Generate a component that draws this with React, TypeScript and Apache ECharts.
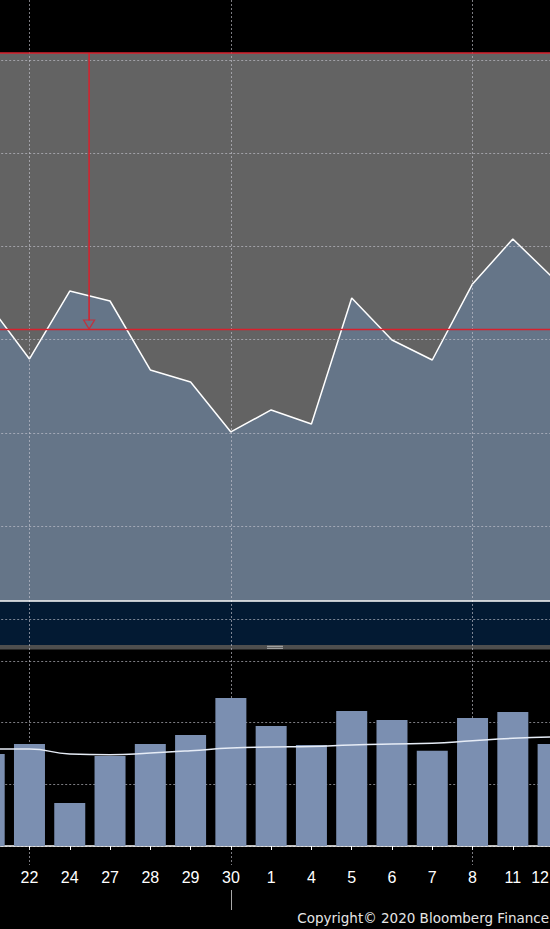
import React, { useEffect, useRef } from "react";
import * as echarts from "echarts";

// ---- data ----
const categories = ["21", "22", "24", "27", "28", "29", "30", "1", "4", "5", "6", "7", "8", "11", "12"];
const priceValues = [133.71, 127.92, 135.21, 134.14, 126.74, 125.45, 120.09, 122.45, 120.94, 134.46, 129.96, 127.81, 135.97, 140.79, 136.61];
const volumeValues = [14.92, 16.54, 6.97, 14.59, 16.54, 18.0, 24.0, 19.46, 16.38, 21.89, 20.43, 15.45, 20.76, 21.73, 16.54];
const volumeAvg = [15.73, 15.73, 14.92, 14.8, 15.08, 15.45, 15.89, 16.05, 16.13, 16.38, 16.54, 16.65, 17.07, 17.46, 17.67];
const priceGridTicks = [100, 110, 120, 130, 140, 150, 160];
const priceMin = 97.23;
const priceMax = 160.75;
const priceBase = 102;
const priceMarker = 131.14;
const arrowX = 2.48;
const volumeMax = 30;
const volumeStep = 10;
const verticalIdx = [1, 6, 12];
const highlightIdx = 6;
const copyrightText = "Copyright\u00A9 2020 Bloomberg Finance";

const RED = "#d8202c";
const GRID_DASH = "rgba(200,200,210,0.62)";

export default function App() {
  const ref = useRef<HTMLDivElement>(null);
  useEffect(() => {
    if (!ref.current) return;
    const chart = echarts.init(ref.current, null, { renderer: "svg" });
    const L = -10.8;
    const W = 563.9;
    const hidden = {
      axisLine: { show: false },
      axisTick: { show: false },
      axisLabel: { show: false },
    };
    const lastIdx = categories.length - 1;
    const labelFont = { color: "#ffffff", fontSize: 16, fontFamily: "Liberation Sans" };
    const gridBase = { left: L, width: W, containLabel: false, outerBoundsMode: "none" };
    chart.setOption({
      animation: false,
      backgroundColor: "#000",
      grid: [
        { ...gridBase, top: 53, height: 592, show: true, backgroundColor: "#636363", borderWidth: 0 },
        { ...gridBase, top: 661, height: 185, show: false },
        { ...gridBase, top: 0, height: 865, show: false },
        { ...gridBase, top: 890, height: 20, show: false },
      ],
      xAxis: [
        { type: "category", gridIndex: 0, data: categories, boundaryGap: false, show: false },
        { type: "value", gridIndex: 0, min: 0, max: lastIdx, show: false },
        {
          type: "category",
          gridIndex: 1,
          data: categories,
          boundaryGap: false,
          offset: 19,
          axisLine: { show: true, lineStyle: { color: "#ffffff", width: 1.5 } },
          axisTick: { show: true, interval: 0, length: 4, lineStyle: { color: "#ffffff", width: 1 } },
          axisLabel: {
            interval: 0,
            ...labelFont,
            margin: 4,
            formatter: (v: string, i: number) => (i === 0 ? "" : i === lastIdx ? `{e|${v}}` : v),
            rich: { e: { ...labelFont, padding: [0, 26, 0, 0] } },
          },
          splitLine: { show: false },
        },
        {
          type: "category",
          gridIndex: 2,
          data: categories,
          boundaryGap: false,
          z: 3,
          ...hidden,
          splitLine: {
            show: true,
            interval: (i: number) => verticalIdx.includes(i),
            lineStyle: { color: GRID_DASH, width: 1, type: [2, 2] },
          },
        },
        {
          type: "category",
          gridIndex: 3,
          data: categories,
          boundaryGap: false,
          ...hidden,
          splitLine: {
            show: true,
            interval: (i: number) => i === highlightIdx,
            lineStyle: { color: "#a8a8a8", width: 1, type: "solid" },
          },
        },
      ],
      yAxis: [
        { type: "value", gridIndex: 0, min: priceMin, max: priceMax, show: false, splitLine: { show: false } },
        {
          type: "value",
          gridIndex: 1,
          min: 0,
          max: volumeMax,
          interval: volumeStep,
          ...hidden,
          splitLine: { show: true, lineStyle: { color: GRID_DASH, width: 1, type: [2, 2] } },
        },
        { type: "value", gridIndex: 2, show: false, splitLine: { show: false } },
        { type: "value", gridIndex: 3, show: false, splitLine: { show: false } },
      ],
      series: [
        {
          type: "line",
          xAxisIndex: 0,
          yAxisIndex: 0,
          data: priceValues,
          symbol: "none",
          z: 2,
          lineStyle: { color: "#ffffff", width: 1.5 },
          areaStyle: { color: "#657588", opacity: 1, origin: priceBase },
          markArea: {
            silent: true,
            itemStyle: { color: "#031a33" },
            data: [[{ yAxis: priceMin }, { yAxis: priceBase }]],
          },
          markLine: {
            silent: true,
            symbol: ["none", "none"],
            label: { show: false },
            data: [
              ...priceGridTicks.map((v) => ({
                yAxis: v,
                lineStyle: { color: GRID_DASH, width: 1, type: [2, 2] },
              })),
              { yAxis: priceBase, lineStyle: { color: "#ffffff", width: 1.5, type: "solid" } },
              { yAxis: priceMarker, lineStyle: { color: RED, width: 1.3, type: "solid", opacity: 1 } },
              { yAxis: priceMax, lineStyle: { color: RED, width: 1.5, type: "solid", opacity: 1 } },
            ],
          },
        },
        {
          type: "line",
          xAxisIndex: 1,
          yAxisIndex: 0,
          data: [
            [arrowX, priceMax],
            [arrowX, priceMarker + 0.9],
          ],
          symbol: "none",
          z: 6,
          lineStyle: { color: RED, width: 1.5 },
        },
        {
          type: "scatter",
          xAxisIndex: 1,
          yAxisIndex: 0,
          data: [[arrowX, priceMarker]],
          symbol: "path://M0,0 L10,0 L5,9 Z",
          symbolSize: [11, 9],
          symbolOffset: [0, -4.5],
          z: 6,
          itemStyle: { color: "rgba(0,0,0,0)", borderColor: RED, borderWidth: 1.2 },
        },
        {
          type: "bar",
          xAxisIndex: 2,
          yAxisIndex: 1,
          data: volumeValues,
          barWidth: 31,
          z: 4,
          itemStyle: { color: "#7b8fb1" },
        },
        {
          type: "line",
          xAxisIndex: 2,
          yAxisIndex: 1,
          data: volumeAvg,
          smooth: true,
          symbol: "none",
          z: 5,
          lineStyle: { color: "#e6ecf6", width: 1.5 },
        },
      ],
      graphic: [
        { type: "rect", shape: { x: 0, y: 645, width: 550, height: 4.5 }, style: { fill: "#4e4e4e" }, z: 1 },
        { type: "line", shape: { x1: 267, y1: 646.3, x2: 283, y2: 646.3 }, style: { stroke: "#b4b4b4", lineWidth: 1 }, z: 2 },
        { type: "line", shape: { x1: 267, y1: 648.3, x2: 283, y2: 648.3 }, style: { stroke: "#b4b4b4", lineWidth: 1 }, z: 2 },
        {
          type: "text",
          right: 1,
          top: 911,
          style: { text: copyrightText, fill: "#e6e6e6", font: '13.5px "DejaVu Sans"' },
        },
      ],
    });
    return () => chart.dispose();
  }, []);
  return <div ref={ref} style={{ position: "absolute", left: 0, top: 0, width: 550, height: 929 }} />;
}
